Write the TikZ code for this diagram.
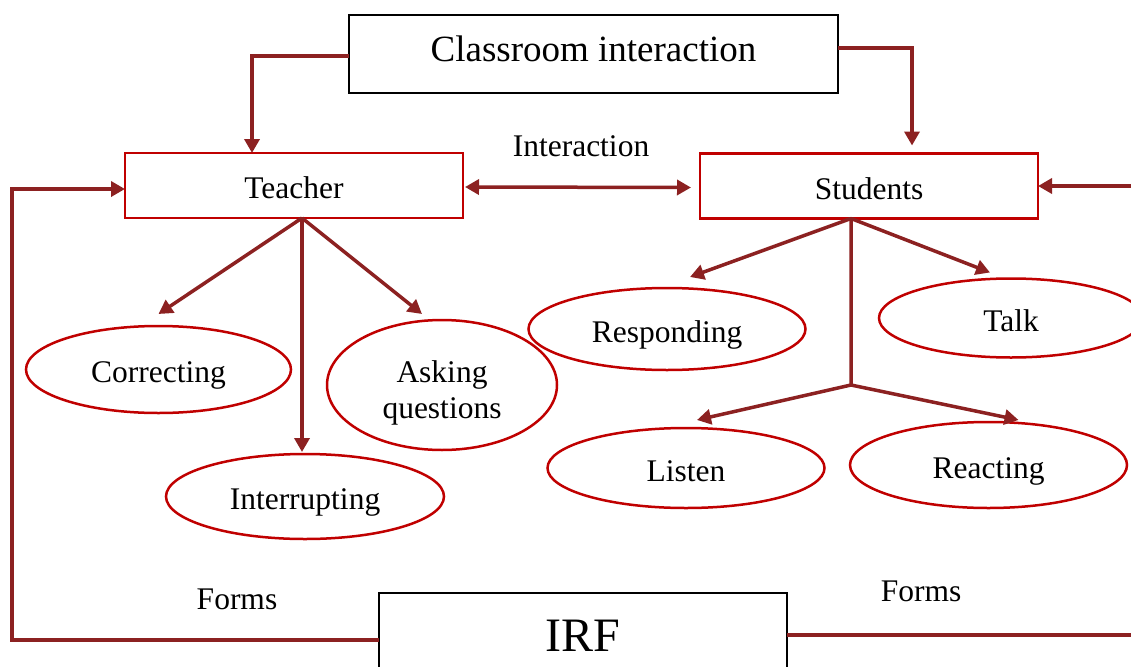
\documentclass[tikz,border=0pt]{standalone}
\usepackage{fontspec}
\setmainfont{Liberation Serif}
\usetikzlibrary{arrows.meta,shapes.geometric}
\definecolor{linkred}{RGB}{140,33,33}
\definecolor{boxred}{RGB}{192,0,0}

\begin{document}
\begin{tikzpicture}[x=1pt,y=-1pt,
  every node/.style={inner sep=0pt, outer sep=0pt},
  base/.style={font=\fontsize{31.5}{36}\selectfont},
  rolebox/.style={base, draw=boxred, line width=2.5pt, minimum width=338pt,
    minimum height=65pt, text height=26pt, text depth=0pt},
  actshape/.style={base, ellipse, draw=boxred, line width=2.5pt},
  act/.style={actshape, text height=26pt, text depth=0pt},
  lbl/.style={base, text height=21pt, text depth=0pt},
  link/.style={draw=linkred, line width=3.5pt},
  tip/.tip={Triangle[length=14pt,width=15pt]},
  arr/.style={link, -tip},
]
\path[use as bounding box] (0,0) rectangle (1131,666);
\clip (0,0) rectangle (1131,666);

% top box and the two roles
\node[draw=black, line width=2.5pt, minimum width=489pt, minimum height=78pt,
  font=\fontsize{37}{44}\selectfont, text height=24.5pt, text depth=10pt]
  (cls) at (593.5,54) {Classroom interaction};
\node[rolebox] (teacher) at (294,185.5) {Teacher};
\node[rolebox] (students) at (869,186) {Students};
\node[lbl] (inter) at (581,146) {Interaction};

% teacher actions
\node[act, minimum width=265pt, minimum height=87pt] (corr) at (158.5,369.5) {Correcting};
\node[act, minimum width=278pt, minimum height=85pt] (intr) at (305,496.5) {Interrupting};
\node[actshape, align=center, minimum width=230pt, minimum height=130pt]
  (ask) at (442,385) {\rule{0pt}{37.5pt}Asking\\questions};

% student actions
\node[act, minimum width=277pt, minimum height=82pt] (resp) at (667,329) {Responding};
\node[act, minimum width=264pt, minimum height=79pt] (talk) at (1011,318) {Talk};
\node[act, minimum width=277pt, minimum height=80pt] (lis) at (686,468) {Listen};
\node[act, minimum width=277pt, minimum height=86pt] (react) at (988.5,465) {Reacting};

% IRF box and labels
\node[draw=black, line width=2.5pt, minimum width=408pt, minimum height=94pt,
  font=\fontsize{48}{56}\selectfont, text height=32pt, text depth=10pt]
  (irf) at (583,640) {IRF};
\node[lbl] (formsL) at (237,599) {Forms};
\node[lbl] (formsR) at (921,591) {Forms};

% helper points
\coordinate (tb) at ([xshift=8pt]teacher.south);
\coordinate (sb) at ([xshift=-18pt]students.south);
\coordinate (sj) at (851,385);
\coordinate (fb) at (12,400);
\coordinate (rin) at (1131,186);
\coordinate (rout) at (1131,635);

% connectors from the top box
\draw[arr] ([yshift=-2pt]cls.west) -| ([xshift=-42pt]teacher.north);
\draw[arr] ([yshift=6pt]cls.east) -| ([xshift=43pt,yshift=8pt]students.north);

% interaction between roles
\draw[link, tip-tip] ([shift={(2pt,-1.5pt)}]teacher.east) -- ([shift={(-9pt,-1.5pt)}]students.west);
\draw[arr] (rin) -- (students.east);

% IRF feedback lines
\draw[arr] (irf.west) -| (fb) |- ([yshift=-3.5pt]teacher.west);
\draw[link] ([yshift=5pt]irf.east) -- (rout);

% teacher branches
\draw[arr] (tb) -- ([yshift=12pt]corr.north);
\draw[arr] (tb) -- ([shift={(-20pt,6pt)}]ask.north);
\draw[arr] (tb) -- ([shift={(-3pt,2pt)}]intr.north);

% student branches
\draw[arr] (sb) -- ([shift={(23pt,11pt)}]resp.north);
\draw[arr] (sb) -- ([shift={(-21pt,6pt)}]talk.north);
\draw[arr] (sb) -- (sj) -- ([shift={(11pt,8pt)}]lis.north);
\draw[arr] (sj) -- ([shift={(30pt,2pt)}]react.north);
\end{tikzpicture}
\end{document}
